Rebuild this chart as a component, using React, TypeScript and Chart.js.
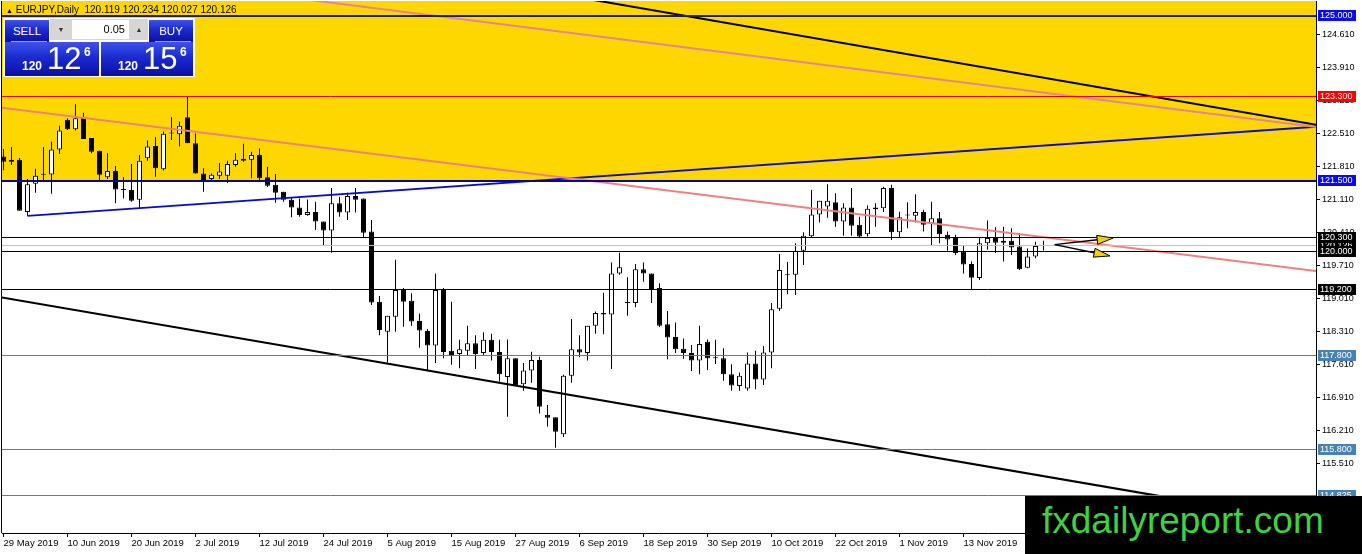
import React, { useEffect, useRef } from 'react';
import { Chart, registerables } from 'chart.js';

Chart.register(...registerables);

// ---- daily candles EURJPY, 29 May 2019 .. 27 Nov 2019 ----
const opens = [122.02,121.95,121.95,120.84,121.44,121.63,121.64,122.17,122.80,122.60,
122.85,122.41,122.14,121.58,121.71,121.32,121.31,121.10,121.98,122.24,
121.75,122.52,122.49,122.85,122.30,121.66,121.54,121.61,121.61,121.84,
121.97,121.95,122.05,121.58,121.42,121.27,121.10,120.94,120.78,120.84,
120.64,120.45,121.03,120.83,121.18,121.13,120.43,118.94,118.30,118.62,
119.19,118.96,118.53,118.32,118.01,119.19,117.90,117.83,117.90,118.06,
117.85,118.13,117.87,117.34,117.74,117.19,117.48,117.70,116.54,116.49,
116.13,117.37,117.93,117.85,118.43,118.70,118.67,119.54,118.93,118.91,
119.63,119.54,119.23,118.46,118.19,117.94,117.85,117.69,118.09,117.75,
117.74,117.40,117.15,117.10,117.63,117.29,117.86,118.79,119.50,119.51,
120.02,120.33,120.79,120.96,121.05,120.64,120.94,120.57,120.37,120.90,
120.92,121.35,120.41,120.78,120.76,120.84,120.60,120.71,120.36,120.29,
120.00,119.74,119.44,120.18,120.29,120.23,120.23,120.11,119.66,119.90,
120.119];
const highs = [122.18,122.22,121.99,121.54,121.76,122.22,122.33,122.67,122.83,123.13,
122.95,122.41,122.14,122.09,121.82,121.58,121.86,122.05,122.36,122.43,
122.55,122.85,122.76,123.30,122.51,121.77,121.66,121.88,121.93,122.09,
122.29,122.12,122.19,121.80,121.65,121.27,121.16,121.13,121.11,121.06,
120.64,121.35,121.16,121.25,121.35,121.13,120.67,119.06,118.64,119.83,
119.23,119.12,118.69,118.36,119.54,119.23,118.94,118.13,118.43,118.23,
118.29,118.26,118.13,118.14,117.74,117.64,117.88,117.77,116.75,116.49,
117.39,118.57,118.23,118.43,118.73,119.13,119.77,119.98,119.46,119.74,
119.77,119.54,119.33,118.74,118.50,118.16,118.02,118.43,118.14,118.13,
117.95,117.61,117.44,117.86,117.90,118.00,118.91,119.95,119.78,120.18,
120.41,121.31,121.08,121.43,121.24,121.03,121.35,120.74,120.98,121.03,
121.38,121.42,120.85,121.05,121.22,120.89,121.06,120.84,120.43,120.36,
120.14,119.79,120.29,120.66,120.52,120.53,120.50,120.39,120.07,120.21,
120.234];
const lows = [121.73,121.84,120.87,120.76,121.25,121.52,121.23,122.07,122.58,122.57,
122.39,122.09,121.52,121.54,121.03,121.13,121.06,120.92,121.93,121.59,
121.72,122.37,122.23,122.30,121.66,121.27,121.52,121.54,121.46,121.80,
121.91,121.56,121.49,121.37,121.04,121.06,120.73,120.74,120.76,120.46,
120.14,119.98,120.74,120.67,120.83,120.29,118.87,118.23,117.65,118.30,
118.41,118.43,117.96,117.49,117.64,117.74,117.60,117.53,117.81,117.51,
117.81,117.69,117.24,116.50,117.17,117.05,117.22,116.57,116.29,115.84,
116.07,117.22,117.76,117.69,118.26,118.25,117.51,119.51,118.64,118.82,
119.36,118.91,118.40,117.72,117.85,117.73,117.47,117.40,117.49,117.62,
117.26,117.05,117.05,117.05,117.08,117.17,117.53,118.74,119.10,119.08,
119.72,120.29,120.62,120.72,120.53,120.34,120.34,120.30,120.32,120.53,
120.84,120.25,120.30,120.50,120.62,120.43,120.14,120.18,120.02,119.93,
119.54,119.19,119.40,120.04,119.97,119.79,119.93,119.61,119.65,119.86,
120.027];
const closes = [121.91,121.91,120.87,121.43,121.61,121.64,122.17,122.57,122.60,122.83,
122.39,122.12,121.63,121.71,121.32,121.31,121.08,121.93,122.23,121.77,
122.50,122.51,122.67,122.30,121.66,121.52,121.63,121.70,121.86,121.95,
121.93,122.05,121.56,121.40,121.25,121.10,120.94,120.78,120.84,120.64,
120.45,121.03,120.83,121.18,121.10,120.40,118.92,118.34,118.64,119.19,
118.94,118.52,118.33,118.01,119.19,117.87,117.81,117.93,118.06,117.83,
118.13,117.87,117.40,117.74,117.17,117.48,117.70,116.71,116.48,116.18,
117.37,117.93,117.86,118.43,118.70,118.67,119.54,119.67,118.91,119.63,
119.54,119.21,118.43,118.18,117.93,117.85,117.69,118.04,117.74,117.74,
117.40,117.16,117.37,117.63,117.29,117.86,118.78,119.61,119.51,120.02,
120.34,120.79,121.08,121.08,120.64,120.94,120.55,120.32,120.91,120.94,
121.35,120.41,120.73,120.77,120.84,120.57,120.71,120.37,120.26,119.97,
119.73,119.45,120.18,120.29,120.19,120.19,120.09,119.63,119.90,120.12,
120.126];

// ---- axis ticks ----
const xTickIndex = [0, 8, 16, 24, 32, 40, 48, 56, 64, 72, 80, 88, 96, 104, 112, 120];
const xTickLabels = ['29 May 2019', '10 Jun 2019', '20 Jun 2019', '2 Jul 2019', '12 Jul 2019',
  '24 Jul 2019', '5 Aug 2019', '15 Aug 2019', '27 Aug 2019', '6 Sep 2019', '18 Sep 2019',
  '30 Sep 2019', '10 Oct 2019', '22 Oct 2019', '1 Nov 2019', '13 Nov 2019'];
const yTickValues = [124.61, 123.91, 123.21, 122.51, 121.81, 121.11, 120.41, 119.71,
  119.01, 118.31, 117.61, 116.91, 116.21, 115.51, 114.81];

// ---- horizontal levels ----
const levelPrices = [125.0, 123.3, 121.5, 120.3, 120.0, 119.2, 117.8, 115.8, 114.825];
const levelLabels = ['125.000', '123.300', '121.500', '120.300', '120.000', '119.200', '117.800', '115.800', '114.825'];

// ---- drawn objects (anchor points: bar index, price) ----
const blackUpperLine = [{ x: 70, y: 125.45 }, { x: 164.2, y: 122.69 }];
const pinkUpperLine = [{ x: 35, y: 125.41 }, { x: 164.2, y: 122.64 }];
const coralLine = [{ x: -1, y: 123.07 }, { x: 165, y: 119.57 }];
const blueTrendLine = [{ x: 3, y: 120.76 }, { x: 165, y: 122.66 }];
const blackLowerLine = [{ x: -1, y: 119.05 }, { x: 165, y: 114.22 }];
const zoneLow = 121.5;
const zoneHigh = 126.0;
const zoneFrom = -5;
const zoneTo = 170;
const arrowStart = { x: 131.4, y: 120.15 };
const arrowEnds = [{ x: 138.7, y: 120.29 }, { x: 138.3, y: 119.91 }];

// ---- styles ----
const levelStyles = [
  { line: '#1c1c66', width: 2, box: '#0a0aee' },
  { line: '#e00000', width: 1, box: '#ff0000' },
  { line: '#0000cd', width: 2, box: '#0a0aee' },
  { line: '#000000', width: 1, box: '#000000' },
  { line: '#000000', width: 1, box: '#000000' },
  { line: '#000000', width: 1, box: '#000000' },
  { line: '#4682b4', width: 1, box: '#4682b4' },
  { line: '#4682b4', width: 1, box: '#4682b4' },
  { line: '#4682b4', width: 1, box: '#4682b4' },
];
const FONT = '"Liberation Sans", Arial, sans-serif';
const X_MIN = -0.1875;
const X_MAX = 164.0625;
const Y_MIN = 114.0327;
const Y_MAX = 125.3182;

const overlayPlugin = {
  id: 'mt4Overlay',
  beforeDatasetsDraw(chart: any) {
    const { ctx, chartArea: a } = chart;
    const x = chart.scales.x, y = chart.scales.y;
    ctx.save();
    ctx.beginPath();
    ctx.rect(a.left, a.top, a.right - a.left, a.bottom - a.top);
    ctx.clip();
    const x1 = x.getPixelForValue(zoneFrom), x2 = x.getPixelForValue(zoneTo);
    const y1 = y.getPixelForValue(zoneHigh), y2 = y.getPixelForValue(zoneLow);
    ctx.fillStyle = '#FFD700';
    ctx.fillRect(x1, y1, x2 - x1, y2 - y1);
    ctx.restore();
  },
  afterDatasetsDraw(chart: any) {
    const { ctx, chartArea: a } = chart;
    const x = chart.scales.x, y = chart.scales.y;
    ctx.save();
    ctx.beginPath();
    ctx.rect(a.left, a.top, a.right - a.left, a.bottom - a.top);
    ctx.clip();
    const hline = (p: number, color: string, w: number) => {
      const py = y.getPixelForValue(p);
      const yy = w % 2 === 1 ? Math.round(py - 0.5) + 0.5 : Math.round(py);
      ctx.strokeStyle = color;
      ctx.lineWidth = w;
      ctx.beginPath();
      ctx.moveTo(a.left, yy);
      ctx.lineTo(a.right, yy);
      ctx.stroke();
    };
    hline(closes[closes.length - 1], '#c0c0c0', 1);
    levelPrices.forEach((p, k) => hline(p, levelStyles[k].line, levelStyles[k].width));

    // arrows
    const sx = x.getPixelForValue(arrowStart.x), sy = y.getPixelForValue(arrowStart.y);
    arrowEnds.forEach((e) => {
      const ex = x.getPixelForValue(e.x), ey = y.getPixelForValue(e.y);
      const ang = Math.atan2(ey - sy, ex - sx);
      const L = 16, W = 4.5;
      const bx = ex - L * Math.cos(ang), by = ey - L * Math.sin(ang);
      ctx.strokeStyle = '#000';
      ctx.lineWidth = 1.5;
      ctx.beginPath();
      ctx.moveTo(sx, sy);
      ctx.lineTo(bx, by);
      ctx.stroke();
      ctx.beginPath();
      ctx.moveTo(ex, ey);
      ctx.lineTo(bx + W * Math.sin(ang), by - W * Math.cos(ang));
      ctx.lineTo(bx - W * Math.sin(ang), by + W * Math.cos(ang));
      ctx.closePath();
      ctx.fillStyle = '#F5D000';
      ctx.fill();
      ctx.lineWidth = 1;
      ctx.stroke();
    });
    ctx.restore();
  },
  afterDraw(chart: any) {
    const { ctx, chartArea: a } = chart;
    const y = chart.scales.y;
    ctx.save();
    ctx.fillStyle = '#000';
    ctx.fillRect(a.left - 1, a.top, 1, a.bottom - a.top);
    ctx.font = '9px ' + FONT;
    ctx.textBaseline = 'middle';
    ctx.textAlign = 'left';
    const box = (p: number, text: string, bg: string) => {
      const py = y.getPixelForValue(p);
      const top = Math.round(py - 5.5);
      ctx.fillStyle = bg;
      ctx.fillRect(a.right + 2, top, 38, 11);
      ctx.fillStyle = '#ffffff';
      ctx.fillText(text, a.right + 4, top + 6);
    };
    const bid = closes[closes.length - 1];
    box(bid, bid.toFixed(3), '#000000');
    levelPrices.forEach((p, k) => box(p, levelLabels[k], levelStyles[k].box));
    ctx.restore();
  },
};

const blueGrad = 'linear-gradient(to bottom, #3f52e8 0%, #1a2ad0 45%, #0a10a6 100%)';

function PriceBox(props: { left: number; width: number; big: string }) {
  const { left, width, big } = props;
  return (
    <div style={{ position: 'absolute', left, top: 24, width, height: 34, background: blueGrad, color: '#fff', fontFamily: FONT }}>
      <span style={{ position: 'absolute', left: 17, top: 18, fontSize: 12, lineHeight: '12px', fontWeight: 'bold' }}>120</span>
      <span style={{ position: 'absolute', left: 42, top: 1, fontSize: 31, lineHeight: '31px' }}>{big}</span>
      <span style={{ position: 'absolute', left: 79, top: 4, fontSize: 12, lineHeight: '12px', fontWeight: 'bold' }}>6</span>
    </div>
  );
}

export default function App() {
  const ref = useRef<HTMLCanvasElement>(null);
  useEffect(() => {
    document.body.style.margin = '0';
    const idx = closes.map((_, i) => i);
    const wickData = idx.map((i) => ({ x: i, y: [lows[i], highs[i]] }));
    const bodyData = idx.map((i) => ({ x: i, y: [Math.min(opens[i], closes[i]), Math.max(opens[i], closes[i])] }));
    const bodyFill = idx.map((i) => (closes[i] >= opens[i] ? '#ffffff' : '#000000'));
    const line = (pts: any[], color: string) => ({
      type: 'line', data: pts, borderColor: color, borderWidth: 2, pointRadius: 0,
      fill: false, tension: 0, order: 0,
    });
    const chart = new Chart(ref.current as HTMLCanvasElement, {
      type: 'bar',
      data: {
        datasets: [
          line(blackUpperLine, '#000000'),
          line(pinkUpperLine, '#e4849c'),
          line(coralLine, '#f08080'),
          line(blueTrendLine, '#0a0acd'),
          line(blackLowerLine, '#000000'),
          {
            type: 'bar', data: bodyData, backgroundColor: bodyFill, borderColor: '#000000', borderWidth: 1,
            borderSkipped: false, grouped: false, maxBarThickness: 5, barPercentage: 1, categoryPercentage: 1,
            minBarLength: 1, inflateAmount: 0, order: 1,
          },
          {
            type: 'bar', data: wickData, backgroundColor: '#000000', borderWidth: 0, grouped: false,
            maxBarThickness: 1, barPercentage: 1, categoryPercentage: 1, inflateAmount: 0, order: 2,
          },
        ] as any,
      },
      options: {
        animation: false,
        responsive: false,
        devicePixelRatio: 1,
        events: [],
        layout: { padding: { left: 2, top: 1, right: 0, bottom: 0 } },
        plugins: { legend: { display: false }, tooltip: { enabled: false } },
        scales: {
          x: {
            type: 'linear', min: X_MIN, max: X_MAX, offset: false,
            afterBuildTicks: (s: any) => { s.ticks = xTickIndex.map((v) => ({ value: v })); },
            afterFit: (s: any) => { s.height = 21; s.paddingLeft = 0; s.paddingRight = 0; },
            ticks: {
              callback: (_v: any, i: number) => xTickLabels[i] ?? '',
              align: 'start', maxRotation: 0, minRotation: 0, autoSkip: false,
              font: { family: FONT, size: 9.5 }, color: '#000', padding: 1,
            },
            grid: { display: true, drawOnChartArea: false, tickLength: 4, color: '#000', offset: false },
            border: { display: true, color: '#000' },
          },
          y: {
            type: 'linear', position: 'right', min: Y_MIN, max: Y_MAX,
            afterBuildTicks: (s: any) => { s.ticks = yTickValues.map((v) => ({ value: v })); },
            afterFit: (s: any) => { s.width = 46; s.paddingTop = 0; s.paddingBottom = 0; },
            ticks: {
              callback: (v: any) => Number(v).toFixed(3), autoSkip: false,
              font: { family: FONT, size: 9 }, color: '#000', padding: 2,
            },
            grid: { display: true, drawOnChartArea: false, tickLength: 4, color: '#000' },
            border: { display: true, color: '#000' },
          },
        } as any,
      } as any,
      plugins: [overlayPlugin as any],
    });
    return () => chart.destroy();
  }, []);

  return (
    <div style={{ position: 'absolute', left: 0, top: 0, width: 1362, height: 554, background: '#fff', overflow: 'hidden' }}>
      <canvas ref={ref} width={1362} height={554} style={{ display: 'block', width: 1362, height: 554 }} />
      {/* header */}
      <div style={{ position: 'absolute', left: 6, top: 5, fontFamily: FONT, fontSize: 10, lineHeight: '10px', color: '#000', whiteSpace: 'pre' }}>
        <span style={{ fontSize: 7 }}>▲</span>{' EURJPY,Daily  120.119 120.234 120.027 120.126'}
      </div>
      {/* one-click trading panel */}
      <div style={{ position: 'absolute', left: 3, top: 18, width: 192, height: 59, background: '#fff' }}>
        <div style={{ position: 'absolute', left: 2, top: 2, width: 44, height: 22, background: blueGrad, color: '#fff', fontFamily: FONT, fontSize: 11.5, lineHeight: '22px', textAlign: 'center' }}>SELL</div>
        <div style={{ position: 'absolute', left: 47, top: 1, width: 98, height: 21, background: '#d6d6d6' }}>
          <div style={{ position: 'absolute', left: 0, top: 0, width: 22, height: 21, color: '#333', fontSize: 7, lineHeight: '21px', textAlign: 'center', fontFamily: FONT }}>▼</div>
          <div style={{ position: 'absolute', left: 22, top: 1, width: 57, height: 19, background: '#fff', color: '#000', fontFamily: FONT, fontSize: 11, lineHeight: '19px', textAlign: 'right', paddingRight: 4, boxSizing: 'border-box' }}>0.05</div>
          <div style={{ position: 'absolute', left: 80, top: 0, width: 18, height: 21, color: '#333', fontSize: 7, lineHeight: '21px', textAlign: 'center', fontFamily: FONT }}>▲</div>
        </div>
        <div style={{ position: 'absolute', left: 146, top: 2, width: 44, height: 22, background: blueGrad, color: '#fff', fontFamily: FONT, fontSize: 11.5, lineHeight: '22px', textAlign: 'center' }}>BUY</div>
        <PriceBox left={2} width={94} big="12" />
        <PriceBox left={98} width={92} big="15" />
        <div style={{ position: 'absolute', left: 8, top: 23, width: 36, height: 1, background: '#9aa4f0' }} />
        <div style={{ position: 'absolute', left: 152, top: 23, width: 36, height: 1, background: '#9aa4f0' }} />
      </div>
      {/* watermark */}
      <div style={{ position: 'absolute', left: 1025, top: 496, width: 337, height: 58, background: '#000' }}>
        <span style={{ position: 'absolute', left: 17, top: 6, fontFamily: FONT, fontSize: 37, lineHeight: '37px', color: '#3fd13f', whiteSpace: 'nowrap' }}>fxdailyreport.com</span>
      </div>
    </div>
  );
}
